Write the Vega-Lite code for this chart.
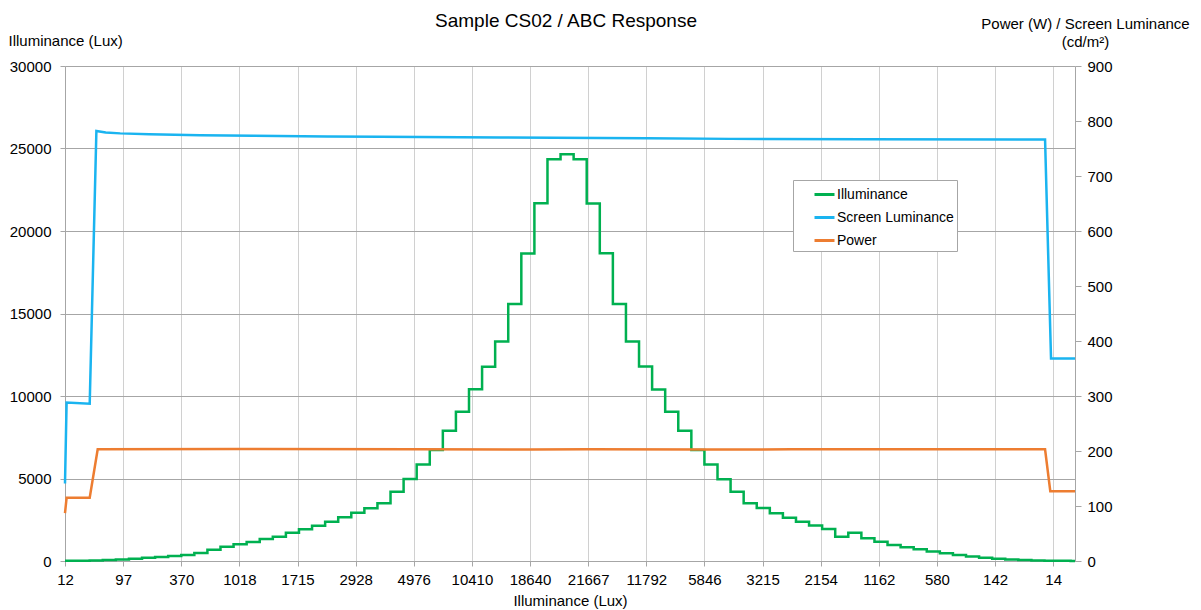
{
  "$schema": "https://vega.github.io/schema/vega-lite/v6.json",
  "width": 1010,
  "height": 495,
  "autosize": {"type": "none"},
  "padding": {"left": 65, "top": 66, "right": 126, "bottom": 49},
  "background": "white",
  "config": {
    "font": "Liberation Sans",
    "view": {"stroke": null},
    "axis": {"labelFont": "Liberation Sans", "titleFont": "Liberation Sans", "labelFontSize": 15, "titleFontSize": 15, "titleFontWeight": "normal", "labelColor": "#000", "titleColor": "#000", "domainColor": "#a6a6a6", "tickColor": "#a6a6a6", "labelFlush": false, "labelOverlap": false}
  },
  "title": {"text": "Sample CS02 / ABC Response", "fontSize": 19, "font": "Liberation Sans", "fontWeight": "normal", "color": "#000", "anchor": "middle", "offset": -15, "dx": -4},
  "datasets": {
    "illum": [
      {"t": 0, "lux": 12, "series": "Illuminance"},
      {"t": 8, "lux": 20, "series": "Illuminance"},
      {"t": 17, "lux": 35, "series": "Illuminance"},
      {"t": 26, "lux": 60, "series": "Illuminance"},
      {"t": 35, "lux": 97, "series": "Illuminance"},
      {"t": 44, "lux": 140, "series": "Illuminance"},
      {"t": 53, "lux": 190, "series": "Illuminance"},
      {"t": 62, "lux": 250, "series": "Illuminance"},
      {"t": 71, "lux": 305, "series": "Illuminance"},
      {"t": 80, "lux": 370, "series": "Illuminance"},
      {"t": 89, "lux": 480, "series": "Illuminance"},
      {"t": 98, "lux": 680, "series": "Illuminance"},
      {"t": 107, "lux": 860, "series": "Illuminance"},
      {"t": 116, "lux": 1018, "series": "Illuminance"},
      {"t": 125, "lux": 1150, "series": "Illuminance"},
      {"t": 134, "lux": 1333, "series": "Illuminance"},
      {"t": 143, "lux": 1475, "series": "Illuminance"},
      {"t": 152, "lux": 1715, "series": "Illuminance"},
      {"t": 161, "lux": 1920, "series": "Illuminance"},
      {"t": 170, "lux": 2140, "series": "Illuminance"},
      {"t": 179, "lux": 2380, "series": "Illuminance"},
      {"t": 188, "lux": 2650, "series": "Illuminance"},
      {"t": 197, "lux": 2928, "series": "Illuminance"},
      {"t": 206, "lux": 3190, "series": "Illuminance"},
      {"t": 215, "lux": 3500, "series": "Illuminance"},
      {"t": 224, "lux": 4200, "series": "Illuminance"},
      {"t": 233, "lux": 4976, "series": "Illuminance"},
      {"t": 242, "lux": 5850, "series": "Illuminance"},
      {"t": 251, "lux": 6730, "series": "Illuminance"},
      {"t": 260, "lux": 7900, "series": "Illuminance"},
      {"t": 269, "lux": 9050, "series": "Illuminance"},
      {"t": 278, "lux": 10410, "series": "Illuminance"},
      {"t": 287, "lux": 11780, "series": "Illuminance"},
      {"t": 296, "lux": 13300, "series": "Illuminance"},
      {"t": 305, "lux": 15580, "series": "Illuminance"},
      {"t": 314, "lux": 18640, "series": "Illuminance"},
      {"t": 323, "lux": 21680, "series": "Illuminance"},
      {"t": 332, "lux": 24350, "series": "Illuminance"},
      {"t": 341, "lux": 24650, "series": "Illuminance"},
      {"t": 350, "lux": 24350, "series": "Illuminance"},
      {"t": 359, "lux": 21667, "series": "Illuminance"},
      {"t": 368, "lux": 18650, "series": "Illuminance"},
      {"t": 377, "lux": 15580, "series": "Illuminance"},
      {"t": 386, "lux": 13300, "series": "Illuminance"},
      {"t": 395, "lux": 11792, "series": "Illuminance"},
      {"t": 404, "lux": 10400, "series": "Illuminance"},
      {"t": 413, "lux": 9050, "series": "Illuminance"},
      {"t": 422, "lux": 7900, "series": "Illuminance"},
      {"t": 431, "lux": 6730, "series": "Illuminance"},
      {"t": 440, "lux": 5846, "series": "Illuminance"},
      {"t": 449, "lux": 4950, "series": "Illuminance"},
      {"t": 458, "lux": 4200, "series": "Illuminance"},
      {"t": 467, "lux": 3500, "series": "Illuminance"},
      {"t": 476, "lux": 3215, "series": "Illuminance"},
      {"t": 485, "lux": 2890, "series": "Illuminance"},
      {"t": 494, "lux": 2625, "series": "Illuminance"},
      {"t": 503, "lux": 2380, "series": "Illuminance"},
      {"t": 512, "lux": 2154, "series": "Illuminance"},
      {"t": 521, "lux": 1940, "series": "Illuminance"},
      {"t": 530, "lux": 1475, "series": "Illuminance"},
      {"t": 539, "lux": 1715, "series": "Illuminance"},
      {"t": 548, "lux": 1375, "series": "Illuminance"},
      {"t": 557, "lux": 1162, "series": "Illuminance"},
      {"t": 566, "lux": 970, "series": "Illuminance"},
      {"t": 575, "lux": 830, "series": "Illuminance"},
      {"t": 584, "lux": 710, "series": "Illuminance"},
      {"t": 593, "lux": 580, "series": "Illuminance"},
      {"t": 602, "lux": 470, "series": "Illuminance"},
      {"t": 611, "lux": 370, "series": "Illuminance"},
      {"t": 620, "lux": 280, "series": "Illuminance"},
      {"t": 629, "lux": 200, "series": "Illuminance"},
      {"t": 638, "lux": 142, "series": "Illuminance"},
      {"t": 647, "lux": 95, "series": "Illuminance"},
      {"t": 656, "lux": 55, "series": "Illuminance"},
      {"t": 665, "lux": 30, "series": "Illuminance"},
      {"t": 674, "lux": 14, "series": "Illuminance"},
      {"t": 683, "lux": 8, "series": "Illuminance"},
      {"t": 692, "lux": 5, "series": "Illuminance"},
      {"t": 695, "lux": 5, "series": "Illuminance"}
    ],
    "other": [
      {"t": 0, "value": 141, "series": "Screen Luminance"},
      {"t": 1.1, "value": 288, "series": "Screen Luminance"},
      {"t": 17, "value": 286, "series": "Screen Luminance"},
      {"t": 21.6, "value": 782, "series": "Screen Luminance"},
      {"t": 28, "value": 779, "series": "Screen Luminance"},
      {"t": 38, "value": 777.5, "series": "Screen Luminance"},
      {"t": 58, "value": 776, "series": "Screen Luminance"},
      {"t": 93, "value": 774, "series": "Screen Luminance"},
      {"t": 130, "value": 773, "series": "Screen Luminance"},
      {"t": 180, "value": 772, "series": "Screen Luminance"},
      {"t": 217, "value": 771.5, "series": "Screen Luminance"},
      {"t": 300, "value": 770, "series": "Screen Luminance"},
      {"t": 400, "value": 768.5, "series": "Screen Luminance"},
      {"t": 458, "value": 767.5, "series": "Screen Luminance"},
      {"t": 550, "value": 767, "series": "Screen Luminance"},
      {"t": 674.4, "value": 766.5, "series": "Screen Luminance"},
      {"t": 678.5, "value": 368, "series": "Screen Luminance"},
      {"t": 695, "value": 368, "series": "Screen Luminance"},
      {"t": 0, "value": 87, "series": "Power"},
      {"t": 1.1, "value": 115, "series": "Power"},
      {"t": 17, "value": 115, "series": "Power"},
      {"t": 22.5, "value": 203, "series": "Power"},
      {"t": 120, "value": 203.5, "series": "Power"},
      {"t": 240, "value": 203.2, "series": "Power"},
      {"t": 320, "value": 202.8, "series": "Power"},
      {"t": 360, "value": 203, "series": "Power"},
      {"t": 440, "value": 202.6, "series": "Power"},
      {"t": 500, "value": 203, "series": "Power"},
      {"t": 674.4, "value": 203, "series": "Power"},
      {"t": 678, "value": 127, "series": "Power"},
      {"t": 695, "value": 127, "series": "Power"}
    ]
  },
  "layer": [
    {
      "data": {"name": "illum"},
      "mark": {"type": "line", "interpolate": "step-after", "strokeWidth": 2.5},
      "encoding": {
        "x": {
          "field": "t", "type": "quantitative",
          "scale": {"domain": [0, 695], "nice": false, "zero": false},
          "axis": {
            "title": "Illuminance (Lux)",
            "values": [0, 20, 40, 60, 80, 100, 120, 140, 160, 180, 200, 220, 240, 260, 280, 300, 320, 340, 360, 380, 400, 420, 440, 460, 480, 500, 520, 540, 560, 580, 600, 620, 640, 660, 680],
            "labelExpr": "['12','','97','','370','','1018','','1715','','2928','','4976','','10410','','18640','','21667','','11792','','5846','','3215','','2154','','1162','','580','','142','','14'][round(datum.value/20)]",
            "grid": true, "gridColor": "#d0d0d0", "tickSize": 5, "labelPadding": 6, "titlePadding": 6
          }
        },
        "y": {
          "field": "lux", "type": "quantitative",
          "scale": {"domain": [0, 30000], "nice": false},
          "axis": {
            "orient": "left", "values": [0, 5000, 10000, 15000, 20000, 25000, 30000], "format": "d",
            "title": "Illuminance (Lux)", "titleAngle": 0, "titleAlign": "left", "titleBaseline": "middle", "titleX": -57, "titleY": -26,
            "grid": true, "gridColor": "#a6a6a6", "tickSize": 5, "labelPadding": 9
          }
        },
        "color": {
          "field": "series", "type": "nominal",
          "scale": {"domain": ["Illuminance", "Screen Luminance", "Power"], "range": ["#00B050", "#1AB4F0", "#ED7D31"]},
          "legend": {
            "orient": "none", "legendX": 728, "legendY": 114, "title": null, "direction": "vertical",
            "padding": 3, "symbolType": "stroke", "symbolSize": 400, "symbolStrokeWidth": 3, "symbolOffset": 17,
            "labelOffset": 1, "labelFontSize": 14, "labelFont": "Liberation Sans", "labelColor": "#000", "rowPadding": 4,
            "strokeColor": "#a6a6a6", "fillColor": "white", "labelExpr": "datum.label + '\u00a0\u00a0\u00a0\u00a0\u00a0\u00a0'"
          }
        }
      }
    },
    {
      "data": {"name": "other"},
      "mark": {"type": "line", "strokeWidth": 2.5},
      "encoding": {
        "x": {"field": "t", "type": "quantitative", "scale": {"domain": [0, 695], "nice": false, "zero": false}},
        "y": {
          "field": "value", "type": "quantitative",
          "scale": {"domain": [0, 900], "nice": false},
          "axis": {
            "orient": "right", "values": [0, 100, 200, 300, 400, 500, 600, 700, 800, 900], "format": "d",
            "title": ["Power (W) / Screen Luminance", "(cd/m²)"], "titleAngle": 0, "titleAlign": "center", "titleBaseline": "top",
            "titleX": 10, "titleY": -50, "titleLineHeight": 18,
            "grid": false, "tickSize": 6, "labelPadding": 6
          }
        },
        "color": {"field": "series", "type": "nominal"}
      }
    }
  ],
  "resolve": {"scale": {"y": "independent"}}
}
